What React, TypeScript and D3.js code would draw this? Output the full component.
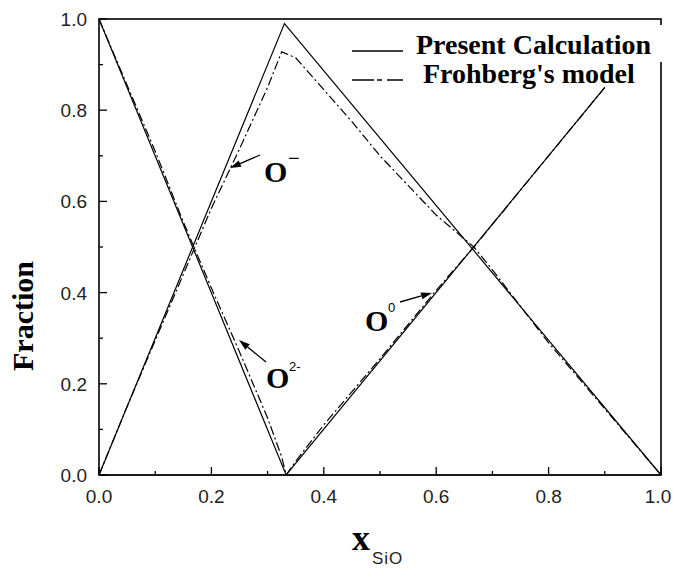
import React from 'react';
import * as d3 from 'd3';

const W = 674;
const H = 568;

// Axis ticks
const xTicks = [0, 0.2, 0.4, 0.6, 0.8, 1.0];
const yTicks = [0, 0.2, 0.4, 0.6, 0.8, 1.0];
const xMinorTicks = [0.1, 0.3, 0.5, 0.7, 0.9];
const yMinorTicks = [0.1, 0.3, 0.5, 0.7, 0.9];

// Present Calculation (solid)
const presO2X = [0, 0.333, 1.0];
const presO2Y = [1.0, 0.0, 0.0];
const presOmX = [0, 0.33, 1.0];
const presOmY = [0, 0.99, 0];
const presO0X = [0, 0.333, 0.9];
const presO0Y = [0, 0, 0.85];

// Frohberg's model (dash-dot)
const frohO2X = [0, 0.05, 0.1, 0.15, 0.2, 0.25, 0.3, 0.325, 0.333];
const frohO2Y = [1.0, 0.855, 0.71, 0.555, 0.41, 0.27, 0.125, 0.04, 0.0];
const frohOmX = [0, 0.05, 0.1, 0.15, 0.2, 0.25, 0.3, 0.325, 0.35, 0.4, 0.45, 0.5, 0.55, 0.6, 0.667, 0.7, 0.8, 0.9, 1.0];
const frohOmY = [0, 0.15, 0.295, 0.44, 0.585, 0.715, 0.85, 0.928, 0.915, 0.845, 0.775, 0.7, 0.635, 0.57, 0.5, 0.45, 0.29, 0.145, 0];
const frohO0X = [0.333, 0.35, 0.4, 0.5, 0.6, 0.667, 0.8, 0.9];
const frohO0Y = [0.0, 0.03, 0.11, 0.255, 0.405, 0.5, 0.7, 0.85];

const legendLabels = ['Present Calculation', "Frohberg's model"];

const x = d3.scaleLinear().domain([0, 1]).range([99, 661]);
const y = d3.scaleLinear().domain([0, 1]).range([475, 19]);

const zip = (xs: number[], ys: number[]) => xs.map((v, i) => [v, ys[i]] as [number, number]);
const line = d3.line<[number, number]>().x(d => x(d[0])).y(d => y(d[1]));

const solidSeries = [zip(presO2X, presO2Y), zip(presOmX, presOmY), zip(presO0X, presO0Y)];
const dashSeries = [zip(frohO2X, frohO2Y), zip(frohOmX, frohOmY), zip(frohO0X, frohO0Y)];

const SERIF = '"Liberation Serif", "Times New Roman", serif';
const SANS = '"Liberation Sans", Arial, sans-serif';
const DASH = '9,3,2,3';

function Arrow({ x1, y1, x2, y2 }: { x1: number; y1: number; x2: number; y2: number }) {
  const dx = x2 - x1, dy = y2 - y1;
  const len = Math.hypot(dx, dy);
  const ux = dx / len, uy = dy / len;
  const hl = 11, hw = 3.5;
  const bx = x2 - ux * hl, by = y2 - uy * hl;
  const pts = [
    [x2, y2],
    [bx - uy * hw, by + ux * hw],
    [bx + uy * hw, by - ux * hw],
  ].map(p => p.join(',')).join(' ');
  return (
    <g>
      <line x1={x1} y1={y1} x2={bx} y2={by} stroke="#000" strokeWidth={1.3} />
      <polygon points={pts} fill="#000" />
    </g>
  );
}

export default function App() {
  return (
    <svg width={W} height={H} style={{ position: 'absolute', left: 0, top: 0, display: 'block', background: '#fff' }}>
      <rect x={0} y={0} width={W} height={H} fill="#fff" />
      {/* frame */}
      <rect x={x(0)} y={y(1)} width={x(1) - x(0)} height={y(0) - y(1)} fill="none" stroke="#000" strokeWidth={1.6} />
      {/* ticks */}
      {xTicks.map(t => (
        <line key={'xt' + t} x1={x(t)} x2={x(t)} y1={y(0)} y2={y(0) - 8} stroke="#000" strokeWidth={1.3} />
      ))}
      {xMinorTicks.map(t => (
        <line key={'xm' + t} x1={x(t)} x2={x(t)} y1={y(0)} y2={y(0) - 4} stroke="#000" strokeWidth={1.3} />
      ))}
      {yTicks.map(t => (
        <line key={'yt' + t} x1={x(0)} x2={x(0) + 8} y1={y(t)} y2={y(t)} stroke="#000" strokeWidth={1.3} />
      ))}
      {yMinorTicks.map(t => (
        <line key={'ym' + t} x1={x(0)} x2={x(0) + 4} y1={y(t)} y2={y(t)} stroke="#000" strokeWidth={1.3} />
      ))}
      {/* tick labels */}
      {xTicks.map(t => (
        <text key={'xl' + t} x={Math.min(x(t), 658)} y={503} textAnchor="middle" fontFamily={SANS} fontSize={19} fill="#222">
          {t.toFixed(1)}
        </text>
      ))}
      {yTicks.map(t => (
        <text key={'yl' + t} x={87} y={y(t) + 7} textAnchor="end" fontFamily={SANS} fontSize={19} fill="#222">
          {t.toFixed(1)}
        </text>
      ))}
      {/* axis titles */}
      <text transform="translate(33,316) rotate(-90)" textAnchor="middle" fontFamily={SERIF} fontWeight="bold" fontSize={30} fill="#000">
        Fraction
      </text>
      <text x={352} y={550} fontFamily={SERIF} fontWeight="bold" fontSize={36} fill="#000">x</text>
      <text x={372} y={564} fontFamily={SANS} fontSize={17} letterSpacing={1} fill="#222">SiO</text>

      {/* curves */}
      {solidSeries.map((s, i) => (
        <path key={'s' + i} d={line(s) || ''} fill="none" stroke="#000" strokeWidth={1.2} />
      ))}
      {dashSeries.map((s, i) => (
        <path key={'d' + i} d={line(s) || ''} fill="none" stroke="#000" strokeWidth={1.2} strokeDasharray={DASH} />
      ))}

      {/* annotations */}
      <text x={264} y={182} fontFamily={SERIF} fontWeight="bold" fontSize={30} fill="#000">O</text>
      <text x={288} y={165} fontFamily={SANS} fontSize={20} fill="#000">−</text>
      <Arrow x1={260} y1={155} x2={230} y2={168} />

      <text x={365} y={331} fontFamily={SERIF} fontWeight="bold" fontSize={30} fill="#000">O</text>
      <text x={388} y={312} fontFamily={SANS} fontSize={13} fill="#000">0</text>
      <Arrow x1={400} y1={302} x2={432} y2={293} />

      <text x={266} y={388} fontFamily={SERIF} fontWeight="bold" fontSize={30} fill="#000">O</text>
      <text x={289} y={371} fontFamily={SANS} fontSize={13} fill="#000">2-</text>
      <Arrow x1={266} y1={362} x2={239} y2={340} />

      {/* legend */}
      <rect x={345} y={25} width={321} height={37} fill="#fff" />
      <line x1={352} x2={403} y1={51} y2={51} stroke="#000" strokeWidth={1.3} />
      <text x={416} y={54} fontFamily={SERIF} fontWeight="bold" fontSize={28} fill="#000">{legendLabels[0]}</text>
      <line x1={352} x2={403} y1={80} y2={80} stroke="#000" strokeWidth={1.3} strokeDasharray="22,3,5,5,17" />
      <text x={423} y={83} fontFamily={SERIF} fontWeight="bold" fontSize={28} fill="#000">{legendLabels[1]}</text>
    </svg>
  );
}
